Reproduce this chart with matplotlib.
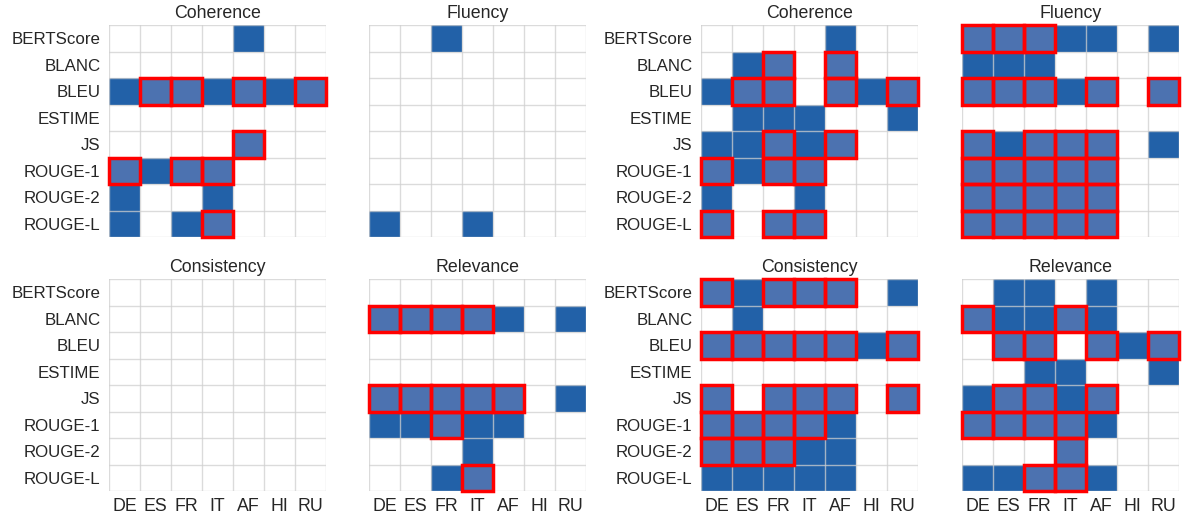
import numpy as np
import matplotlib
matplotlib.use("Agg")
import matplotlib.pyplot as plt
from matplotlib.colors import ListedColormap, BoundaryNorm
from matplotlib.patches import Rectangle

plt.rcParams["font.family"] = ["Liberation Sans", "DejaVu Sans"]

metrics = ["BERTScore", "BLANC", "BLEU", "ESTIME", "JS", "ROUGE-1", "ROUGE-2", "ROUGE-L"]
languages = ["DE", "ES", "FR", "IT", "AF", "HI", "RU"]

# 0 = not significant, 1 = significant, 2 = significant and highlighted
coherence_a = [
    [0, 0, 0, 0, 1, 0, 0],
    [0, 0, 0, 0, 0, 0, 0],
    [1, 2, 2, 1, 2, 1, 2],
    [0, 0, 0, 0, 0, 0, 0],
    [0, 0, 0, 0, 2, 0, 0],
    [2, 1, 2, 2, 0, 0, 0],
    [1, 0, 0, 1, 0, 0, 0],
    [1, 0, 1, 2, 0, 0, 0],
]
fluency_a = [
    [0, 0, 1, 0, 0, 0, 0],
    [0, 0, 0, 0, 0, 0, 0],
    [0, 0, 0, 0, 0, 0, 0],
    [0, 0, 0, 0, 0, 0, 0],
    [0, 0, 0, 0, 0, 0, 0],
    [0, 0, 0, 0, 0, 0, 0],
    [0, 0, 0, 0, 0, 0, 0],
    [1, 0, 0, 1, 0, 0, 0],
]
consistency_a = [[0] * 7 for _ in range(8)]
relevance_a = [
    [0, 0, 0, 0, 0, 0, 0],
    [2, 2, 2, 2, 1, 0, 1],
    [0, 0, 0, 0, 0, 0, 0],
    [0, 0, 0, 0, 0, 0, 0],
    [2, 2, 2, 2, 2, 0, 1],
    [1, 1, 2, 1, 1, 0, 0],
    [0, 0, 0, 1, 0, 0, 0],
    [0, 0, 1, 2, 0, 0, 0],
]
coherence_b = [
    [0, 0, 0, 0, 1, 0, 0],
    [0, 1, 2, 0, 2, 0, 0],
    [1, 2, 2, 0, 2, 1, 2],
    [0, 1, 1, 1, 0, 0, 1],
    [1, 1, 2, 1, 2, 0, 0],
    [2, 1, 2, 2, 0, 0, 0],
    [1, 0, 0, 1, 0, 0, 0],
    [2, 0, 2, 2, 0, 0, 0],
]
fluency_b = [
    [2, 2, 2, 1, 1, 0, 1],
    [1, 1, 1, 0, 0, 0, 0],
    [2, 2, 2, 1, 2, 0, 2],
    [0, 0, 0, 0, 0, 0, 0],
    [2, 1, 2, 2, 2, 0, 1],
    [2, 2, 2, 2, 2, 0, 0],
    [2, 2, 2, 2, 2, 0, 0],
    [2, 2, 2, 2, 2, 0, 0],
]
consistency_b = [
    [2, 1, 2, 2, 2, 0, 1],
    [0, 1, 0, 0, 0, 0, 0],
    [2, 2, 2, 2, 2, 1, 2],
    [0, 0, 0, 0, 0, 0, 0],
    [2, 0, 2, 2, 2, 0, 2],
    [2, 2, 2, 2, 1, 0, 0],
    [2, 2, 2, 1, 1, 0, 0],
    [1, 1, 1, 1, 1, 0, 0],
]
relevance_b = [
    [0, 1, 1, 0, 1, 0, 0],
    [2, 1, 1, 2, 1, 0, 0],
    [0, 2, 2, 0, 2, 1, 2],
    [0, 0, 1, 1, 0, 0, 1],
    [1, 2, 2, 1, 2, 0, 0],
    [2, 2, 2, 2, 1, 0, 0],
    [0, 0, 0, 2, 0, 0, 0],
    [1, 1, 2, 2, 1, 0, 0],
]

panels = [
    ("Coherence", coherence_a), ("Fluency", fluency_a),
    ("Coherence", coherence_b), ("Fluency", fluency_b),
    ("Consistency", consistency_a), ("Relevance", relevance_a),
    ("Consistency", consistency_b), ("Relevance", relevance_b),
]

W, H = 1185, 515
fig = plt.figure(figsize=(W / 100, H / 100), dpi=100)

lefts = [109, 369, 701, 962]
tops = [25, 279]
pw, ph = 217, 212

cmap = ListedColormap(["white", "#2261a8", "#4c72b0"])
norm = BoundaryNorm([-0.5, 0.5, 1.5, 2.5], cmap.N)

for idx, (title, data) in enumerate(panels):
    r, c = divmod(idx, 4)
    x0 = lefts[c] / W
    y0 = 1 - (tops[r] + ph) / H
    ax = fig.add_axes([x0, y0, pw / W, ph / H])
    arr = np.array(data)
    ax.pcolormesh(np.arange(8), np.arange(9), arr, cmap=cmap, norm=norm, zorder=1)
    # light cell grid
    for xv in range(8):
        ax.axvline(xv, color="#d0d0d0", lw=1.0, alpha=0.75, zorder=2)
    for yv in range(9):
        ax.axhline(yv, color="#d0d0d0", lw=1.0, alpha=0.75, zorder=2)
    # red outlines on highlighted cells
    rows, cols = np.where(arr == 2)
    for i, j in zip(rows, cols):
        ax.add_patch(Rectangle((j, i), 1, 1, fill=False, edgecolor="#ff0000",
                               lw=2.5, zorder=3, clip_on=False))
    ax.set_xlim(0, 7)
    ax.set_ylim(8, 0)
    for s in ax.spines.values():
        s.set_visible(False)
    ax.set_title(title, fontsize=12.8, color="#262626", pad=5)
    ax.tick_params(length=0, labelcolor="#262626")
    ax.tick_params(axis="x", pad=5, labelsize=12.8)
    ax.tick_params(axis="y", pad=6, labelsize=12.2)
    ax.set_xticks(np.arange(7) + 0.5)
    ax.set_yticks(np.arange(8) + 0.5)
    if r == 1:
        ax.set_xticklabels(languages)
    else:
        ax.set_xticklabels([])
    if c in (0, 2):
        ax.set_yticklabels(metrics)
    else:
        ax.set_yticklabels([])

fig.savefig("out.png", dpi=100)
